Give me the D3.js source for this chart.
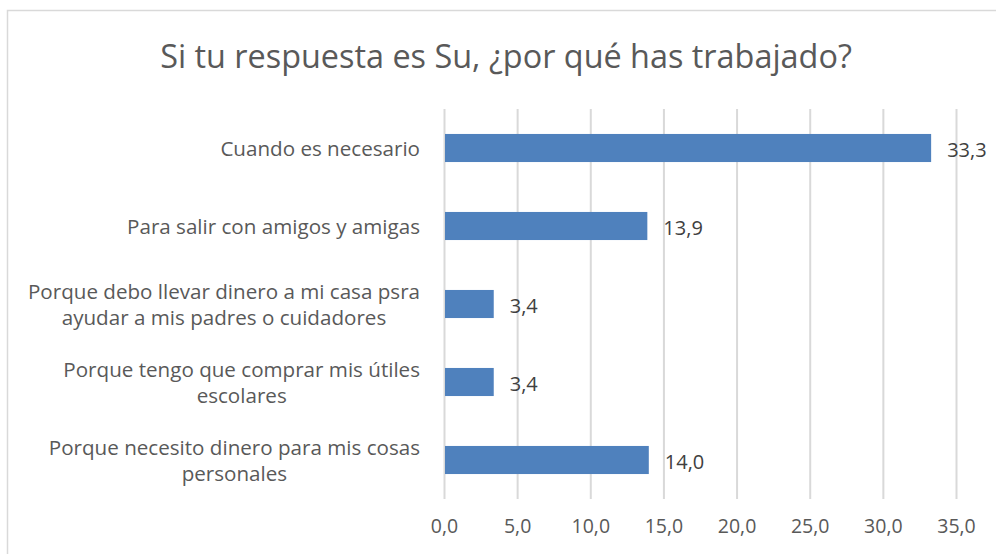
<!DOCTYPE html>
<html>
<head>
<meta charset="utf-8">
<script src="https://cdn.jsdelivr.net/npm/d3@7"></script>
<style>
  html, body { margin: 0; padding: 0; background: #fff; }
  svg { display: block; }
</style>
</head>
<body>
<svg id="chart"></svg>
<script>
// data
const categories = [
    ["Cuando es necesario"],
    ["Para salir con amigos y amigas"],
    ["Porque debo llevar dinero a mi casa psra", "ayudar a mis padres o cuidadores"],
    ["Porque tengo que comprar mis útiles", "escolares"],
    ["Porque necesito dinero para mis cosas", "personales"]
];
const values = [33.3, 13.9, 3.4, 3.4, 14.0];
const tickValues = [0, 5, 10, 15, 20, 25, 30, 35];
const title = "Si tu respuesta es Su, ¿por qué has trabajado?";

const w = 996;
const h = 554;
let margin = ({ top: 109, right: 40, bottom: 55, left: 444 });

const svg = d3.select("#chart")
    .attr("width", w)
    .attr("height", h)
    .style("font-family", "'Open Sans', sans-serif");

// chart frame (runs off the right and bottom of the picture)
svg.append("rect")
    .attr("x", 7.5)
    .attr("y", 10.5)
    .attr("width", w + 20)
    .attr("height", h + 20)
    .attr("fill", "none")
    .attr("stroke", "#d9d9d9")
    .attr("stroke-width", 1.5);

svg.append("text")
    .attr("x", 506)
    .attr("y", 68)
    .attr("text-anchor", "middle")
    .attr("fill", "#595959")
    .style("font-size", "32.4px")
    .text(title);

const ids = categories.map((c, i) => i);

const xScale = d3.scaleLinear()
    .domain([0, 35])
    .range([margin.left, 956]);

const yScale = d3.scaleBand()
    .domain(ids)
    .range([margin.top, h - margin.bottom])
    .paddingInner(0.64)
    .paddingOuter(0.32);

const fmt = v => d3.format(".1f")(v).replace(".", ",");

// gridlines + tick labels
const xAxis = g => g
    .attr("transform", `translate(0,${h - margin.bottom})`)
    .call(d3.axisBottom(xScale).tickValues(tickValues).tickFormat(fmt)
        .tickSize(-(h - margin.bottom - margin.top)).tickPadding(20))
    .call(g => g.selectAll(".domain").remove())
    .call(g => g.selectAll(".tick line").attr("stroke", "#d9d9d9").attr("stroke-width", 2))
    .call(g => g.selectAll(".tick text")
        .attr("fill", "#595959")
        .style("font-size", "19.5px")
        .style("font-family", "'Open Sans', sans-serif"));

svg.append("g").call(xAxis);

// bars
svg.append("g")
    .selectAll("rect")
    .data(values)
    .join("rect")
    .attr("x", xScale(0) + 1)
    .attr("y", (d, i) => yScale(i))
    .attr("width", d => xScale(d) - xScale(0) - 1)
    .attr("height", yScale.bandwidth())
    .attr("fill", "#4f81bd");

// value labels
svg.append("g")
    .selectAll("text")
    .data(values)
    .join("text")
    .attr("x", d => xScale(d) + 16)
    .attr("y", (d, i) => yScale(i) + yScale.bandwidth() / 2 + 2)
    .attr("dy", "0.35em")
    .attr("fill", "#404040")
    .style("font-size", "20px")
    .text(d => fmt(d));

// category labels, lines centered on each other, block right-aligned
const labelRight = 420;
const lineHeight = 26;
const labels = svg.append("g")
    .selectAll("text")
    .data(categories)
    .join("text")
    .attr("fill", "#595959")
    .attr("text-anchor", "middle")
    .style("font-size", "20.6px");

labels.each(function (lines, i) {
    const t = d3.select(this);
    const cy = yScale(i) + yScale.bandwidth() / 2 + 1;
    lines.forEach((line, j) => {
        t.append("tspan")
            .attr("y", cy + (j - (lines.length - 1) / 2) * lineHeight)
            .attr("dy", "0.35em")
            .text(line);
    });
    let maxW = 0;
    t.selectAll("tspan").each(function () {
        maxW = Math.max(maxW, this.getComputedTextLength());
    });
    t.selectAll("tspan").attr("x", labelRight - maxW / 2);
});
</script>
</body>
</html>
